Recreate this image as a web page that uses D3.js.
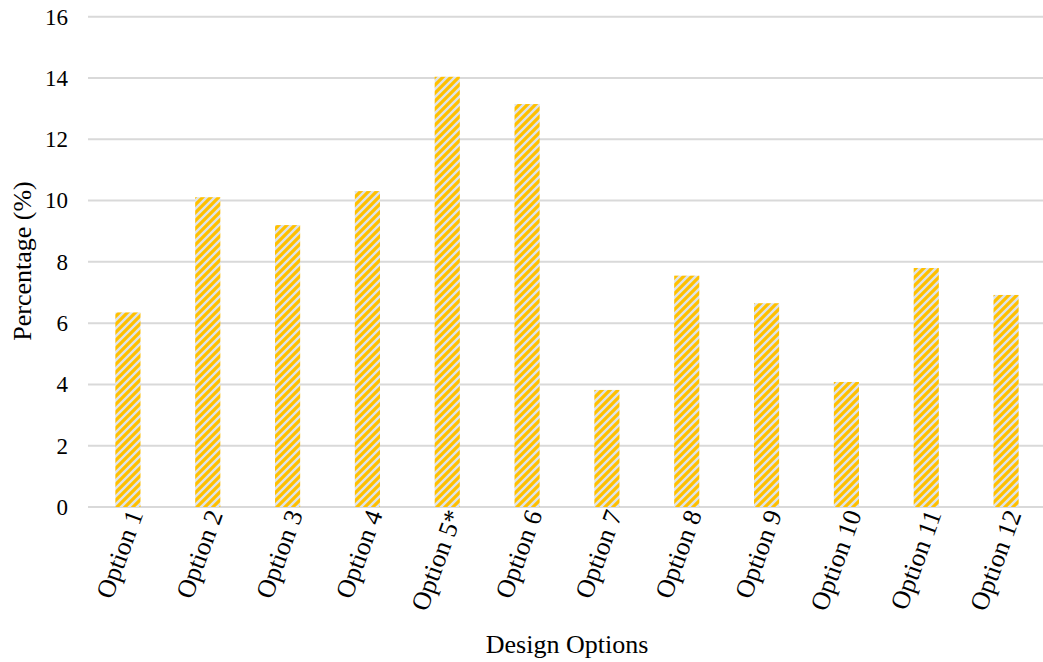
<!DOCTYPE html>
<html><head><meta charset="utf-8">
<script src="https://cdn.jsdelivr.net/npm/d3@7"></script>
<style>body{margin:0;background:#fff;} text{font-family:"Liberation Serif","Times New Roman",serif;}</style>
</head><body>
<svg id="c" width="1043" height="662"></svg>
<script>
const categories = ["Option 1","Option 2","Option 3","Option 4","Option 5*","Option 6","Option 7","Option 8","Option 9","Option 10","Option 11","Option 12"];
const values = [6.35,10.11,9.2,10.31,14.04,13.15,3.82,7.55,6.65,4.08,7.8,6.92];
const yTicks = [0,2,4,6,8,10,12,14,16];

const svg = d3.select("#c");
const m = {left:88, right:1046, top:16.7, bottom:507};
const x = d3.scaleBand().domain(categories).range([m.left, m.right]).paddingInner(0.685).paddingOuter(0.3425);
const y = d3.scaleLinear().domain([0,16]).range([m.bottom, m.top]);

const defs = svg.append("defs");
const pat = defs.append("pattern").attr("id","hatch").attr("patternUnits","userSpaceOnUse")
  .attr("width",8).attr("height",8);
pat.append("rect").attr("width",8).attr("height",8).attr("fill","#DDE3EC");
pat.append("path").attr("d","M-2,2 L2,-2 M0,8 L8,0 M6,10 L10,6").attr("stroke","#FFC000").attr("stroke-width",3.2);

// gridlines
svg.append("g").selectAll("line").data(yTicks).join("line")
  .attr("x1", m.left).attr("x2", 1043)
  .attr("y1", d=>y(d)).attr("y2", d=>y(d))
  .attr("stroke","#D9D9D9").attr("stroke-width",2);

// y axis labels
const yAxis = d3.axisLeft(y).tickValues(yTicks).tickSize(0).tickPadding(0);
const ga = svg.append("g").attr("transform",`translate(68,0)`).call(yAxis);
ga.select(".domain").remove();
ga.selectAll("text").attr("font-size",23).attr("fill","#000").attr("font-family","Liberation Serif").attr("dy","0.32em");

// bars
svg.append("g").selectAll("rect").data(values).join("rect")
  .attr("x",(d,i)=>x(categories[i])).attr("width",x.bandwidth())
  .attr("y",d=>y(d)).attr("height",d=>y(0)-y(d))
  .attr("fill","url(#hatch)");

// x labels
const xAxis = d3.axisBottom(x).tickSize(0).tickPadding(0);
const gx = svg.append("g").attr("transform",`translate(0,${m.bottom})`).call(xAxis);
gx.select(".domain").remove();
gx.selectAll("text").attr("font-size",26).attr("fill","#000").attr("font-family","Liberation Serif")
  .attr("text-anchor","end").attr("dy","0.35em")
  .attr("transform","translate(7,4) rotate(-70)");

svg.append("text").attr("x",567).attr("y",653).attr("text-anchor","middle").attr("font-size",26).text("Design Options");
svg.append("text").attr("transform","translate(31,261) rotate(-90)").attr("text-anchor","middle").attr("font-size",26).text("Percentage (%)");
</script>
</body></html>
